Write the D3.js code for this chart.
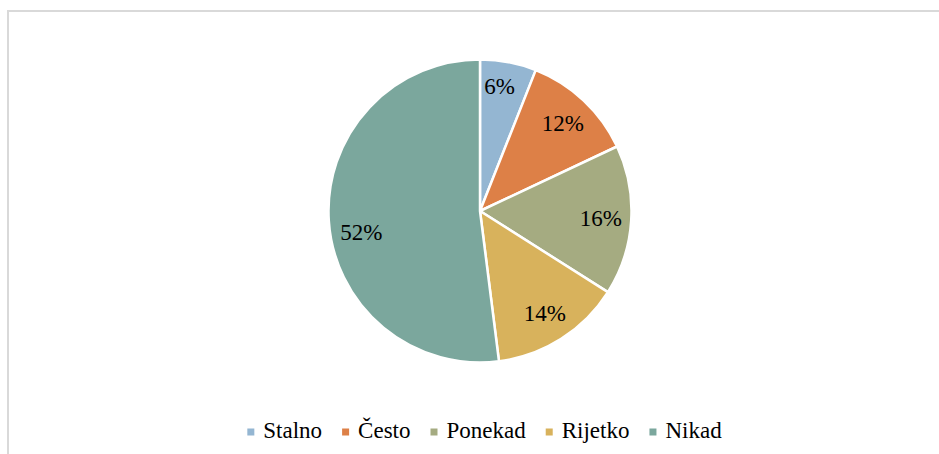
<!DOCTYPE html>
<html>
<head>
<meta charset="utf-8">
<script src="https://cdn.jsdelivr.net/npm/d3@7"></script>
<style>
  html, body { margin: 0; padding: 0; background: #ffffff; }
  svg { display: block; }
</style>
</head>
<body>
<svg id="chart" width="939" height="454"></svg>
<script>
// Survey answers: how often (shares in %)
const categories = ["Stalno", "Često", "Ponekad", "Rijetko", "Nikad"];
const values = [6, 12, 16, 14, 52];
const colors = ["#94b6d2", "#dd8047", "#a5ab81", "#d8b25c", "#7ba79d"];

const width = 939, height = 454;
const cx = 480, cy = 211, radius = 151.5;
const fontSize = 23;
const serif = "Liberation Serif";
// small per-label nudges from the plain centroid position
const labelNudge = [[-3, -6], [0, 0], [0, 0], [0, 0], [2, 14]];

const svg = d3.select("#chart");

// chart frame
svg.append("rect")
  .attr("x", 8).attr("y", 11)
  .attr("width", width + 10).attr("height", height + 10)
  .attr("fill", "#ffffff")
  .attr("stroke", "#d9d9d9")
  .attr("stroke-width", 2);

const pie = d3.pie().sort(null).value(d => d.value);
const data = categories.map((c, i) => ({ name: c, value: values[i] }));
const arcs = pie(data);

const arc = d3.arc().innerRadius(0).outerRadius(radius);
const labelArc = d3.arc().innerRadius(121).outerRadius(121);

const color = d3.scaleOrdinal().domain(categories).range(colors);

const g = svg.append("g").attr("transform", `translate(${cx},${cy})`);

g.selectAll("path.slice")
  .data(arcs)
  .join("path")
  .attr("class", "slice")
  .attr("d", arc)
  .attr("fill", d => color(d.data.name))
  .attr("stroke", "#ffffff")
  .attr("stroke-width", 2.5)
  .attr("stroke-linejoin", "round");

const total = d3.sum(values);
g.selectAll("text.lbl")
  .data(arcs)
  .join("text")
  .attr("class", "lbl")
  .attr("transform", (d, i) => {
    const [x, y] = labelArc.centroid(d);
    return `translate(${x + labelNudge[i][0]},${y + labelNudge[i][1]})`;
  })
  .attr("text-anchor", "middle")
  .attr("dy", "0.34em")
  .attr("font-family", serif)
  .attr("font-size", fontSize)
  .attr("fill", "#000")
  .text(d => Math.round(d.data.value / total * 100) + "%");

// legend
const legend = svg.append("g");
const items = legend.selectAll("g.item")
  .data(categories)
  .join("g")
  .attr("class", "item");

items.append("rect")
  .attr("width", 7).attr("height", 7)
  .attr("y", -3.5)
  .attr("fill", d => color(d));

items.append("text")
  .attr("x", 16)
  .attr("dy", 6)
  .attr("font-family", serif)
  .attr("font-size", fontSize)
  .attr("fill", "#000")
  .text(d => d);

let xPos = 0;
const gap = 20;
items.each(function () {
  const w = d3.select(this).select("text").node().getComputedTextLength();
  d3.select(this).attr("data-x", xPos);
  xPos += 16 + w + gap;
});
const legendWidth = xPos - gap;
const startX = 484.5 - legendWidth / 2;
items.attr("transform", function () {
  return `translate(${startX + (+this.getAttribute("data-x"))},432)`;
});
</script>
</body>
</html>
